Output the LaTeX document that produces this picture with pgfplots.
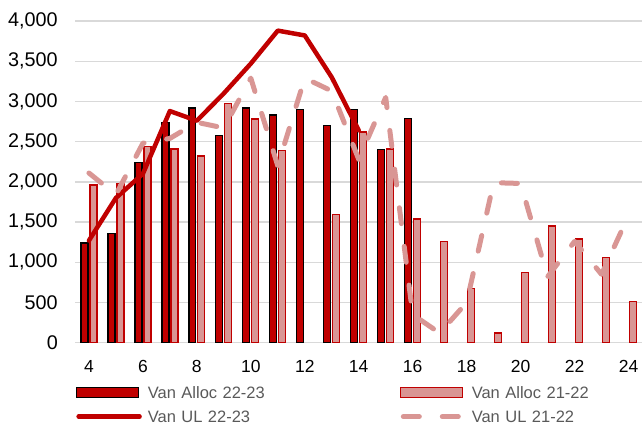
\documentclass[border=0pt]{standalone}
\usepackage{pgfplots}
\pgfplotsset{compat=1.18}
\usepackage{fontspec}
\setmainfont{Liberation Sans}
\definecolor{vanred}{HTML}{C00000}
\definecolor{vanpink}{HTML}{D99694}
\definecolor{gridgray}{HTML}{D9D9D9}
\definecolor{legendgray}{HTML}{595959}

\begin{document}
\begin{tikzpicture}
\begin{axis}[
    scale only axis,
    width=567bp, height=322bp,
    xmin=3.5, xmax=24.5, ymin=0, ymax=4000,
    xtick={4,6,...,24},
    ytick={0,500,...,4000},
    axis line style={draw=none},
    major tick length=0pt,
    ymajorgrids,
    grid style={gridgray, line width=1.4bp},
    scaled y ticks=false,
    /pgf/number format/1000 sep={,},
    /pgf/number format/assume math mode=true,
    yticklabel style={font=\fontsize{19.8bp}{22bp}\selectfont, inner sep=0pt, anchor=east, xshift=-17.5bp},
    xticklabel style={font=\fontsize{17.5bp}{20bp}\selectfont, inner sep=0pt, anchor=north, yshift=-17.7bp},
    legend columns=2,
    legend style={draw=none, fill=none, inner sep=0pt, outer sep=0pt,
      at={(0,0)}, anchor=north west, xshift=0.5bp, yshift=-44bp,
      row sep=12bp, text=legendgray,
      font=\fontsize{16.5bp}{19bp}\selectfont,
      cells={anchor=west},
      nodes={inner sep=0pt, text height=12bp, text depth=0pt, text width=252bp, align=left},
      /tikz/every odd column/.append style={column sep=6bp}},
    ]

    % Van Alloc 22-23
    \addplot[ybar, bar width=7bp, bar shift=-4.5bp, fill=vanred, draw=black, line width=1.3bp,
      legend image code/.code={\draw[fill=vanred, draw=black, line width=1.4bp] (0bp,-5bp) rectangle (62bp,5bp);}]
    coordinates {(4,1240) (5,1360) (6,2240) (7,2740) (8,2920) (9,2580) (10,2920)
      (11,2830) (12,2900) (13,2700) (14,2900) (15,2400) (16,2790)};

    % Van Alloc 21-22
    \addplot[ybar, bar width=7bp, bar shift=4.5bp, fill=vanpink, draw=vanred, line width=1.3bp,
      legend image code/.code={\draw[fill=vanpink, draw=vanred, line width=1.4bp] (0bp,-5bp) rectangle (62bp,5bp);}]
    coordinates {(4,1960) (5,1980) (6,2440) (7,2410) (8,2320) (9,2970) (10,2780)
      (11,2390) (13,1590) (14,2620) (15,2410) (16,1540) (17,1260) (18,670)
      (19,120) (20,870) (21,1450) (22,1290) (23,1060) (24,510)};

    % Van UL 22-23
    \addplot[vanred, line width=4.5bp, line join=round, line cap=round,
      legend image code/.code={\draw[vanred, line width=4.5bp, line cap=round] (2bp,0bp) -- (63bp,0bp);}]
    coordinates {(4,1270) (5,1800) (6,2100) (7,2880) (8,2760) (9,3100) (10,3470)
      (11,3880) (12,3820) (13,3300) (14,2640)};

    % Van UL 21-22
    \addplot[vanpink, line width=5bp, line join=round, line cap=round, dash pattern=on 16bp off 23bp,
      legend image code/.code={\draw[vanpink, line width=5bp, line cap=round, dash pattern=on 16bp off 23bp] (3bp,0bp) -- (63bp,0bp);}]
    coordinates {(4,2110) (5,1840) (6,2480) (7,2540) (8,2740) (9,2670) (10,3290)
      (11,2200) (12,3290) (13,3130) (14,2280) (15,3050) (16,350) (17,120)
      (18,500) (19,1990) (20,1980) (21,820) (22,1260) (23,850) (24,1580)};

    \legend{Van Alloc 22-23, Van Alloc 21-22, Van UL 22-23, Van UL 21-22}

    \coordinate (sw) at (rel axis cs:0,0);
    \coordinate (ne) at (rel axis cs:1,1);
\end{axis}
\pgfresetboundingbox
\path[use as bounding box] ([shift={(-75.5bp,-80bp)}]sw) rectangle ([shift={(0bp,21bp)}]ne);
\end{tikzpicture}
\end{document}
